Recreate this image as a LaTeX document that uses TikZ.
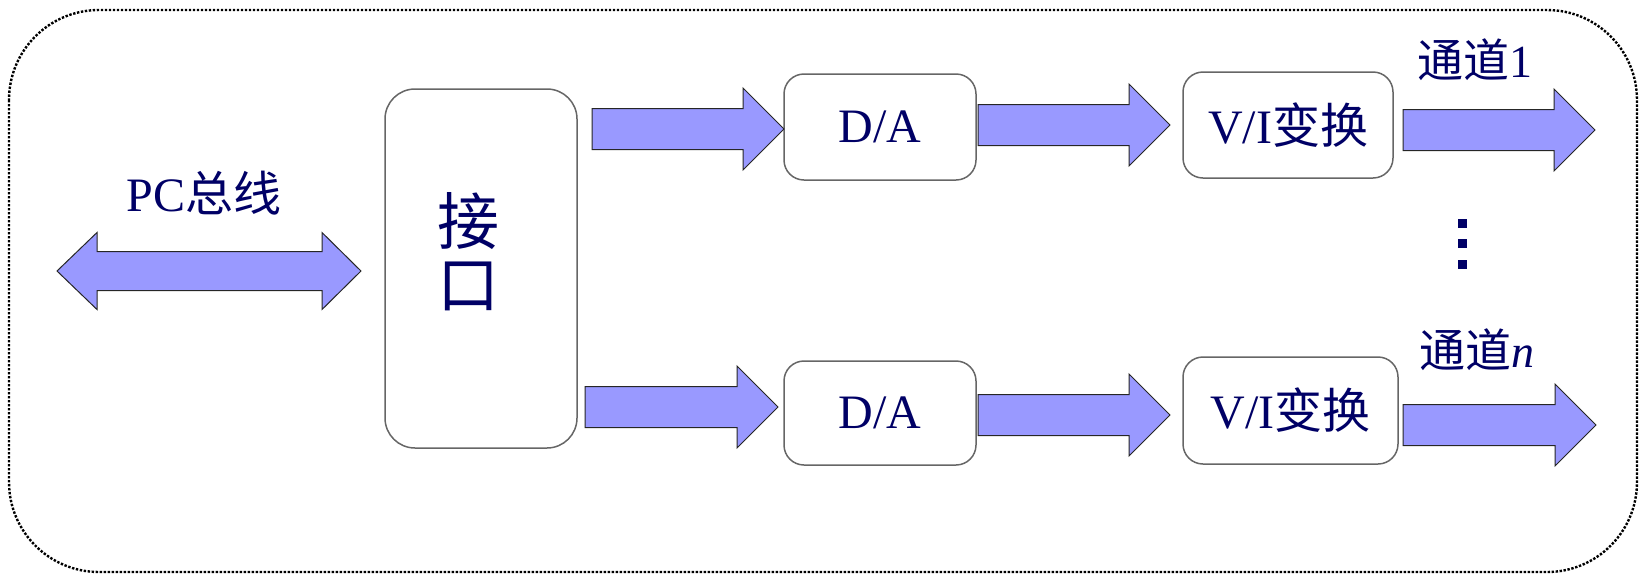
\documentclass[tikz,border=0pt]{standalone}
\usepackage{fontspec}
\setmainfont{Liberation Serif}
\newfontfamily\cjk{Noto Sans CJK SC}
\definecolor{navy}{RGB}{0,0,102}
\definecolor{arrowblue}{RGB}{153,153,255}
\newcommand\rarrow[3]{% #1 x start, #2 x tip, #3 y centre
  \filldraw[barrow] (#1,#3-20.5) -- (#2-41,#3-20.5) -- (#2-41,#3-41) -- (#2,#3)
    -- (#2-41,#3+41) -- (#2-41,#3+20.5) -- (#1,#3+20.5) -- cycle;}
\begin{document}
\begin{tikzpicture}[x=0.5pt,y=-0.5pt,
  box/.style={draw=black!60, line width=0.75pt, rounded corners=10pt, inner sep=0pt, fill=white,
    text=navy, font=\fontsize{24}{28}\selectfont},
  lbl/.style={text=navy, font=\fontsize{24}{28}\selectfont, inner sep=0pt},
  barrow/.style={fill=arrowblue, draw=black!85, line width=0.5pt, line join=miter},
  outer/.style={draw=black, line width=1.2pt, dash pattern=on 1.2pt off 0.8pt, rounded corners=45pt}]
\useasboundingbox (0,0) rectangle (1646,575);
\draw[outer] (9,10) rectangle (1637,572);
% PC bus
\filldraw[barrow] (57,271) -- (97,232.5) -- (97,251.5) -- (322,251.5) -- (322,232.5) -- (361,271)
  -- (322,309.5) -- (322,290.5) -- (97,290.5) -- (97,309.5) -- cycle;
\node[lbl] (pc) at (204,193) {PC{\cjk 总线}};
% interface
\node[box, rounded corners=15pt, minimum width=96pt, minimum height=179.5pt] (iface) at (481,268.5) {};
\node[lbl, align=center, font=\cjk\fontsize{31}{31.5}\selectfont] (ifacetxt) at (468,252) {接\\口};
% boxes
\node[box, minimum width=96pt, minimum height=53pt] (da1) at (880,127) {D/A};
\node[box, minimum width=96pt, minimum height=52pt] (da2) at (880,413) {D/A};
\node[box, minimum width=105pt, minimum height=53pt] (vi1) at (1288,125) {V/I{\cjk 变换}};
\node[box, minimum width=107.5pt, minimum height=53.5pt] (vi2) at (1290.5,410.5) {V/I{\cjk 变换}};
% arrows
\rarrow{592}{784}{129}
\rarrow{978}{1170}{125}
\rarrow{1403}{1595}{130}
\rarrow{585}{778}{407}
\rarrow{978}{1170}{415}
\rarrow{1403}{1596}{425}
% channel labels
\node[lbl, font=\fontsize{23}{28}\selectfont] (ch1) at (1475,60) {{\cjk 通道}1};
\node[lbl, font=\fontsize{23}{28}\selectfont] (chn) at (1477,350) {{\cjk 通道}\textit{n}};
% dots
\fill[navy] (1457.5,218.5) rectangle ++(9,9);
\fill[navy] (1457.5,239) rectangle ++(9,9);
\fill[navy] (1457.5,259.5) rectangle ++(9,9);
\end{tikzpicture}
\end{document}
